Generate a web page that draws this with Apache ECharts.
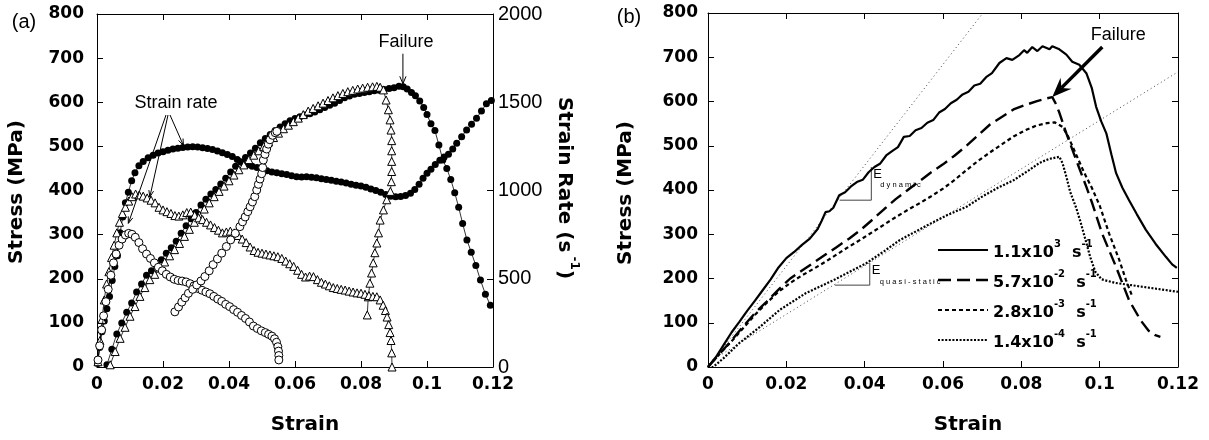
<!DOCTYPE html>
<html>
<head>
<meta charset="utf-8">
<script src="https://cdn.jsdelivr.net/npm/echarts@6/dist/echarts.min.js"></script>
<style>
  html, body { margin: 0; padding: 0; background: #fff; }
  #c { width: 1209px; height: 440px; }
</style>
</head>
<body>
<div id="c"></div>
<script>
// ---------------- Panel (a): marker curves ----------------
// Filled circles – stress (left axis)
const fcStressStrain = [0.0030,0.0045,0.0060,0.0075,0.0090,0.0105,0.0120,0.0135,0.0150,0.0165,
  0.0180,0.0195,0.0210,0.0225,0.0240,0.0255,0.0270,0.0285,0.0300,0.0315,
  0.0330,0.0345,0.0360,0.0375,0.0390,0.0405,0.0420,0.0435,0.0450,0.0465,
  0.0480,0.0495,0.0510,0.0525,0.0540,0.0555,0.0570,0.0585,0.0600,0.0615,
  0.0630,0.0645,0.0660,0.0675,0.0690,0.0705,0.0720,0.0735,0.0750,0.0765,
  0.0780,0.0795,0.0810,0.0825,0.0840,0.0855,0.0870,0.0885,0.0900,0.0915,
  0.0928,0.0940,0.0953,0.0965,0.0978,0.0990,0.1000,0.1012,0.1024,0.1036,
  0.1048,0.1060,0.1072,0.1084,0.1096,0.1108,0.1121,0.1134,0.1148,0.1162,
  0.1177,0.1192];
const fcStress = [5,40,75,100,124,145,170,188,208,218,
  230,243,258,270,285,303,320,336,350,367,
  380,392,402,415,428,442,455,465,475,485,
  496,508,518,527,536,544,551,558,563,567,
  571,574,578,583,588,593,598,604,610,614,
  618,620,622,624,626,627,629,631,633,636,
  635,630,622,615,603,588,572,551,536,503,
  469,450,425,395,362,325,288,260,230,197,
  165,140];

// Filled circles – strain rate (right axis)
const fcRateStrain = [0.0002,0.0008,0.0015,0.0022,0.0030,0.0038,0.0046,0.0054,0.0062,0.0070,
  0.0078,0.0086,0.0095,0.0105,0.0115,0.0127,0.0140,0.0155,0.0170,0.0185,
  0.0200,0.0215,0.0230,0.0245,0.0260,0.0275,0.0290,0.0305,0.0320,0.0335,
  0.0350,0.0365,0.0380,0.0395,0.0410,0.0425,0.0440,0.0455,0.0470,0.0485,
  0.0500,0.0515,0.0530,0.0545,0.0560,0.0575,0.0590,0.0605,0.0620,0.0635,
  0.0650,0.0665,0.0680,0.0695,0.0710,0.0725,0.0740,0.0755,0.0770,0.0785,
  0.0800,0.0815,0.0830,0.0845,0.0860,0.0875,0.0890,0.0905,0.0920,0.0935,
  0.0950,0.0963,0.0976,0.0988,0.1000,0.1012,0.1025,0.1039,0.1052,0.1065,
  0.1078,0.1090,0.1105,0.1120,0.1135,0.1150,0.1165,0.1180,0.1195];
const fcRate = [20,110,200,260,330,400,490,570,630,760,
  850,930,990,1055,1100,1140,1165,1185,1200,1212,
  1220,1228,1235,1240,1244,1247,1248,1246,1242,1238,
  1232,1224,1214,1204,1192,1175,1158,1146,1138,1130,
  1120,1112,1105,1100,1095,1090,1083,1078,1076,1078,
  1075,1072,1066,1062,1058,1052,1048,1042,1036,1030,
  1025,1018,1008,1000,990,978,968,964,966,972,
  985,1005,1035,1070,1098,1120,1148,1172,1190,1205,
  1235,1267,1305,1343,1376,1409,1450,1492,1510];

// Open triangles – stress (left axis), loading then unloading
const trStressStrain = [0.0040,0.0055,0.0070,0.0085,0.0100,0.0115,0.0130,0.0145,0.0160,0.0175,
  0.0190,0.0205,0.0220,0.0235,0.0250,0.0265,0.0280,0.0295,0.0310,0.0325,
  0.0340,0.0355,0.0370,0.0385,0.0400,0.0415,0.0430,0.0445,0.0460,0.0475,
  0.0490,0.0505,0.0520,0.0535,0.0550,0.0565,0.0580,0.0595,0.0610,0.0625,
  0.0640,0.0655,0.0670,0.0685,0.0700,0.0715,0.0730,0.0745,0.0760,0.0775,
  0.0790,0.0805,0.0820,0.0835,0.0848,0.0858,0.0868,0.0876,0.0883,0.0888,
  0.0891,0.0893,0.0893,0.0893,0.0893,0.0892,0.0889,0.0878,0.0868,0.0858,
  0.0853,0.0848,0.0842,0.0837,0.0832,0.0827,0.0822,0.0819];
const trStress = [5,35,65,90,115,137,160,180,198,210,
  224,238,252,266,280,296,312,328,344,358,
  372,386,398,410,422,435,447,458,470,480,
  490,500,510,520,530,540,548,556,564,572,
  580,586,592,598,604,610,615,620,624,627,
  630,632,634,635,636,634,628,605,583,560,
  537,513,490,466,443,420,398,379,356,333,
  304,281,259,236,213,190,159,118];

// Open triangles – strain rate (right axis)
const trRateStrain = [0.0003,0.0009,0.0015,0.0022,0.0029,0.0036,0.0044,0.0052,0.0060,0.0068,
  0.0077,0.0086,0.0096,0.0106,0.0117,0.0128,0.0140,0.0152,0.0164,0.0176,
  0.0188,0.0200,0.0212,0.0224,0.0236,0.0248,0.0260,0.0272,0.0284,0.0296,
  0.0308,0.0320,0.0332,0.0344,0.0356,0.0368,0.0380,0.0392,0.0404,0.0416,
  0.0428,0.0440,0.0452,0.0464,0.0476,0.0488,0.0500,0.0512,0.0524,0.0536,
  0.0548,0.0560,0.0572,0.0584,0.0596,0.0608,0.0620,0.0632,0.0644,0.0656,
  0.0668,0.0680,0.0692,0.0704,0.0716,0.0728,0.0740,0.0752,0.0764,0.0776,
  0.0788,0.0800,0.0812,0.0824,0.0836,0.0848,0.0858,0.0867,0.0874,0.0879,
  0.0884,0.0888,0.0891,0.0893,0.0894];
const trRate = [30,150,270,380,470,540,620,690,760,820,
  870,905,940,965,980,975,968,958,945,930,
  905,890,880,870,858,855,862,875,878,860,
  845,835,820,805,790,775,760,765,770,760,
  745,725,705,680,660,650,645,640,635,630,
  625,615,600,585,570,548,525,510,515,512,
  495,480,470,460,450,445,440,436,430,425,
  420,418,412,405,400,398,380,350,320,283,
  240,195,150,80,0];

// Open circles – strain rate (right axis)
const ocRateStrain = [0.0003,0.0008,0.0014,0.0020,0.0027,0.0034,0.0042,0.0050,0.0058,0.0067,
  0.0076,0.0086,0.0096,0.0106,0.0116,0.0127,0.0138,0.0150,0.0162,0.0174,
  0.0186,0.0198,0.0210,0.0222,0.0234,0.0246,0.0258,0.0270,0.0282,0.0294,
  0.0306,0.0318,0.0330,0.0342,0.0354,0.0366,0.0378,0.0390,0.0402,0.0414,
  0.0426,0.0438,0.0450,0.0462,0.0474,0.0486,0.0498,0.0510,0.0520,0.0530,
  0.0538,0.0544,0.0548,0.0550,0.0551,0.0551];
const ocRate = [40,120,210,290,370,440,520,590,640,690,
  725,748,757,752,735,705,670,640,615,590,
  565,545,525,510,497,490,487,482,472,460,
  445,435,425,415,400,385,372,355,342,325,
  310,292,275,255,232,218,205,195,185,175,
  160,140,115,90,65,40];

// Open circles – stress (left axis), unloading branch
const ocStressStrain = [0.0236,0.0247,0.0257,0.0267,0.0277,0.0290,0.0302,0.0315,0.0327,0.0340,
  0.0352,0.0365,0.0378,0.0392,0.0405,0.0419,0.0433,0.0441,0.0449,0.0457,
  0.0464,0.0471,0.0478,0.0484,0.0489,0.0494,0.0499,0.0502,0.0504,0.0509,
  0.0514,0.0519,0.0524,0.0532,0.0540,0.0545];
const ocStress = [125,136,147,157,167,176,186,195,205,218,
  232,245,258,273,288,303,318,329,340,352,
  363,374,386,401,414,426,438,452,469,482,
  494,505,515,525,531,534];

// ---------------- Panel (b): stress–strain at four rates ----------------
const rateLabels = [
  ['1.1x10', '3'],
  ['5.7x10', '-2'],
  ['2.8x10', '-3'],
  ['1.4x10', '-4']
];

const dynStrain = [0,0.002,0.004,0.006,0.008,0.010,0.012,0.014,0.016,0.018,
  0.020,0.022,0.024,0.026,0.028,0.029,0.030,0.031,0.032,0.0335,
  0.035,0.0365,0.038,0.0395,0.041,0.0425,0.044,0.0455,0.047,0.0485,
  0.050,0.0515,0.053,0.0545,0.056,0.0575,0.059,0.0605,0.062,0.0635,
  0.065,0.0665,0.068,0.0695,0.071,0.0725,0.0744,0.0762,0.0777,0.0795,
  0.0807,0.0815,0.0828,0.0841,0.0854,0.0872,0.0879,0.0897,0.0915,0.093,
  0.0948,0.0966,0.098,0.0991,0.1004,0.1017,0.103,0.1042,0.1058,0.1075,
  0.1095,0.1118,0.1143,0.1169,0.1185,0.1197];
const dynStress = [0,22,50,78,102,127,150,174,198,225,
  246,260,276,290,312,330,350,352,360,388,
  395,408,418,423,440,452,460,478,488,497,
  520,522,535,540,552,558,575,583,596,604,
  616,622,636,640,655,664,687,698,694,705,
  716,710,723,714,725,718,725,718,706,690,
  683,664,630,588,555,528,480,438,405,377,
  345,310,278,249,232,224];

const r57Strain = [0,0.003,0.006,0.009,0.012,0.015,0.018,0.021,0.024,0.027,
  0.030,0.033,0.036,0.039,0.042,0.045,0.048,0.051,0.054,0.057,
  0.060,0.063,0.066,0.069,0.072,0.075,0.078,0.081,0.084,
  0.0865,0.0879,0.0888,0.0897,0.0915,0.094,0.0966,0.0981,0.1006,0.1042,
  0.1075,0.1105,0.1125,0.1142,0.1155];
const r57Stress = [0,30,60,92,122,148,175,200,218,236,
  254,272,290,310,333,357,380,400,420,440,
  458,478,500,524,548,565,582,592,601,
  607,610,595,575,528,468,407,370,302,226,
  151,105,82,72,68];

const r28Strain = [0,0.003,0.006,0.009,0.012,0.015,0.018,0.021,0.024,0.027,
  0.030,0.033,0.036,0.039,0.042,0.045,0.048,0.051,0.054,0.057,
  0.060,0.063,0.066,0.069,0.072,0.075,0.078,0.081,0.084,
  0.0865,0.0885,0.0905,0.092,0.094,0.096,0.098,0.1,0.1024,0.105,
  0.1067,0.1083];
const r28Stress = [0,30,58,88,118,145,170,190,207,222,
  238,255,272,288,305,322,339,355,370,386,
  403,423,445,466,485,503,521,535,546,
  551,553,543,520,480,440,405,365,302,242,
  197,160];

const r14Strain = [0,0.0013,0.004,0.008,0.0133,0.0183,0.025,0.032,0.037,0.0405,
  0.045,0.049,0.053,0.057,0.061,0.066,0.070,0.074,0.078,0.082,
  0.0846,0.087,0.0897,0.0905,0.0915,0.0925,0.094,0.0952,0.0964,0.0976,
  0.0989,0.1005,0.104,0.108,0.112,0.116,0.12];
const r14Stress = [0,0,20,54,91,129,167,196,219,235,
  262,287,306,325,343,362,385,405,422,445,
  461,470,475,461,430,395,360,325,287,248,
  215,198,190,185,180,175,170];

// Modulus guide lines and slope triangles (strain, stress)
const eDynLine = [[0, 0], [0.0702, 800]];
const eQuasiLine = [[0.001, 15], [0.12, 667]];
const eDynTri = [[0.0336, 377], [0.0417, 377], [0.0417, 452]];
const eQuasiTri = [[0.0324, 185], [0.0413, 185], [0.0413, 235]];

// Annotated points
const failurePointA = [0.0927, 642];          // stress peak, filled circles
const rateArrowTips = [[0.0262, 1255], [0.016, 963], [0.0095, 814]];
const failurePointB = [0.0879, 610];

// ---------------- chart ----------------
const zip = (xs, ys) => xs.map((x, i) => [x, ys[i]]);
const BOLD = 'DejaVu Sans';
const PLAIN = 'Liberation Sans';

const chart = echarts.init(document.getElementById('c'));

const fmtStrain = v => String(+v.toFixed(2));
const fmtInt = v => String(Math.round(v));

function xAxis(grid, pos, showLabels) {
  return {
    type: 'value', gridIndex: grid, position: pos, min: 0, max: 0.12, interval: 0.02,
    axisLine: { show: true, onZero: false, lineStyle: { color: '#000', width: 1 } },
    axisTick: { show: true, inside: true, length: 6, lineStyle: { color: '#000', width: 1 } },
    splitLine: { show: false },
    axisLabel: showLabels ? {
      show: true, margin: 9, formatter: fmtStrain, color: '#000',
      fontFamily: BOLD, fontWeight: 'bold', fontSize: 17
    } : { show: false }
  };
}
function yAxis(grid, pos, max, interval, label) {
  return {
    type: 'value', gridIndex: grid, position: pos, min: 0, max: max, interval: interval,
    axisLine: { show: true, onZero: false, lineStyle: { color: '#000', width: 1 } },
    axisTick: { show: true, inside: true, length: 6, lineStyle: { color: '#000', width: 1 } },
    splitLine: { show: false },
    axisLabel: label ? Object.assign({ show: true, color: '#000', formatter: fmtInt }, label) : { show: false }
  };
}

function markers(xs, ys, yIdx, symbol, size, fill, z) {
  return {
    type: 'line', xAxisIndex: 0, yAxisIndex: yIdx, data: zip(xs, ys),
    symbol: symbol, symbolSize: size, showSymbol: true, showAllSymbol: true,
    clip: false, silent: true, z: z,
    lineStyle: { color: '#000', width: 0.8 },
    itemStyle: { color: fill, borderColor: '#000', borderWidth: fill === '#000' ? 0 : 1, opacity: 1 },
    emphasis: { disabled: true }
  };
}
function curve(data, width, type, z, color) {
  return {
    type: 'line', xAxisIndex: 2, yAxisIndex: 2, data: data,
    symbol: 'none', showSymbol: false, silent: true, z: z || 3,
    lineStyle: { color: color || '#000', width: width, type: type },
    emphasis: { disabled: true }
  };
}

const dashLong = [13, 6];
const dashShort = [4, 3];
const dashDot = [2, 1.6];

chart.setOption({
  animation: false,
  backgroundColor: '#fff',
  grid: [
    { left: 97, top: 14, width: 396, height: 353, outerBoundsMode: 'none' },
    { left: 708, top: 13, width: 470, height: 354, outerBoundsMode: 'none' }
  ],
  xAxis: [
    xAxis(0, 'bottom', true), xAxis(0, 'top', false),
    xAxis(1, 'bottom', true), xAxis(1, 'top', false)
  ],
  yAxis: [
    yAxis(0, 'left', 800, 100, { margin: 13, fontFamily: BOLD, fontWeight: 'bold', fontSize: 17 }),
    yAxis(0, 'right', 2000, 500, { margin: 5, fontFamily: PLAIN, fontSize: 20 }),
    yAxis(1, 'left', 800, 100, { margin: 10, fontFamily: BOLD, fontWeight: 'bold', fontSize: 17 }),
    yAxis(1, 'right', 800, 100, null)
  ],
  series: [
    markers(fcStressStrain, fcStress, 0, 'circle', 7, '#000', 2),
    markers(fcRateStrain, fcRate, 1, 'circle', 7, '#000', 2),
    markers(trStressStrain, trStress, 0, 'triangle', 8, '#fff', 3),
    markers(trRateStrain, trRate, 1, 'triangle', 8, '#fff', 3),
    markers(ocRateStrain, ocRate, 1, 'circle', 8, '#fff', 4),
    markers(ocStressStrain, ocStress, 0, 'circle', 8, '#fff', 4),

    curve(eDynLine, 1, [1, 3], 2, '#444'),
    curve(eQuasiLine, 1, [1, 3], 2, '#444'),
    curve(eDynTri, 1, 'solid', 2, '#444'),
    curve(eQuasiTri, 1, 'solid', 2, '#444'),
    curve(zip(dynStrain, dynStress), 2.2, 'solid', 5),
    curve(zip(r57Strain, r57Stress), 2.4, dashLong, 4),
    curve(zip(r28Strain, r28Stress), 2.2, dashShort, 4),
    curve(zip(r14Strain, r14Stress), 2.2, dashDot, 4)
  ]
});

// ---------------- annotations ----------------
const toA = p => chart.convertToPixel({ xAxisIndex: 0, yAxisIndex: 0 }, p);
const toAR = p => chart.convertToPixel({ xAxisIndex: 0, yAxisIndex: 1 }, p);
const toB = p => chart.convertToPixel({ xAxisIndex: 2, yAxisIndex: 2 }, p);

function head(tip, from, len, ang) {
  const dx = from[0] - tip[0], dy = from[1] - tip[1];
  const L = Math.hypot(dx, dy), ux = dx / L, uy = dy / L;
  const r = a => [tip[0] + len * (ux * Math.cos(a) - uy * Math.sin(a)),
                  tip[1] + len * (ux * Math.sin(a) + uy * Math.cos(a))];
  return [r(ang), tip, r(-ang)];
}
function text(x, y, str, opts) {
  return {
    type: 'text', x: x, y: y, rotation: opts.rotation || 0, silent: true, z: 100,
    style: Object.assign({
      text: str, fill: '#000', align: 'center', verticalAlign: 'middle',
      fontFamily: PLAIN, fontSize: 18
    }, opts.style || {})
  };
}
function seg(a, b, w, color) {
  return { type: 'line', silent: true, z: 100,
    shape: { x1: a[0], y1: a[1], x2: b[0], y2: b[1] },
    style: { stroke: color || '#000', lineWidth: w } };
}
function poly(points, w) {
  return { type: 'polyline', silent: true, z: 100, shape: { points: points },
    style: { stroke: '#000', lineWidth: w, fill: null } };
}

const g = [];
// panel letters
g.push(text(24, 22, '(a)', { style: { fontSize: 20 } }));
g.push(text(629, 17, '(b)', { style: { fontSize: 20 } }));

// axis titles
const nameStyle = { fontFamily: BOLD, fontWeight: 'bold', fontSize: 20 };
g.push(text(17, 192, 'Stress (MPa)', { rotation: Math.PI / 2, style: nameStyle }));
g.push(text(305, 425, 'Strain', { style: nameStyle }));
g.push(text(567, 188, '{n|Strain Rate (s}{p| -1}{n|)}', {
  rotation: -Math.PI / 2,
  style: {
    rich: {
      n: { fontFamily: BOLD, fontWeight: 'bold', fontSize: 20, lineHeight: 26, verticalAlign: 'bottom' },
      p: { fontFamily: BOLD, fontWeight: 'bold', fontSize: 12, lineHeight: 12, verticalAlign: 'top' }
    }
  }
}));
g.push(text(626, 193, 'Stress (MPa)', { rotation: Math.PI / 2, style: nameStyle }));
g.push(text(968, 425, 'Strain', { style: nameStyle }));

// (a) "Strain rate" with three arrows
g.push(text(176, 103, 'Strain rate', {}));
const rateOrigins = [[170, 115], [168, 115], [166, 115]];
rateArrowTips.forEach((t, i) => {
  const tip = toAR(t);
  g.push(seg(rateOrigins[i], tip, 1));
  g.push(poly(head(tip, rateOrigins[i], 7, 0.35), 1));
});

// (a) Failure
const fa = toA(failurePointA);
g.push(text(fa[0] + 3, 42, 'Failure', {}));
const faFrom = [fa[0], fa[1] - 30];
g.push(seg(faFrom, fa, 1));
g.push(poly(head(fa, faFrom, 8, 0.4), 1));

// (b) Failure, heavy arrow
const fb = toB(failurePointB);
const fbFrom = [fb[0] + 50, fb[1] - 50];
g.push(text(fb[0] + 66, 35, 'Failure', {}));
(function () {
  const dx = fbFrom[0] - fb[0], dy = fbFrom[1] - fb[1];
  const L = Math.hypot(dx, dy), ux = dx / L, uy = dy / L;
  const notch = [fb[0] + ux * 13, fb[1] + uy * 13];
  const h = head(fb, fbFrom, 21, 0.38);
  g.push(seg(fbFrom, notch, 3.5));
  g.push({ type: 'polygon', silent: true, z: 100,
    shape: { points: [h[0], h[1], h[2], notch] }, style: { fill: '#000' } });
})();

// (b) modulus labels
const td = toB(eDynTri[2]);
g.push(text(td[0] + 2, td[1] + 7, 'E', { style: { align: 'left', fontSize: 13 } }));
g.push(text(td[0] + 9, td[1] + 18, 'd y n a m i c', { style: { align: 'left', fontSize: 7.5 } }));
const tq = toB(eQuasiTri[2]);
g.push(text(tq[0] + 2, tq[1] + 7, 'E', { style: { align: 'left', fontSize: 13 } }));
g.push(text(tq[0] + 10, tq[1] + 19, 'q u a s i - s t a t i c', { style: { align: 'left', fontSize: 7.5 } }));

// (b) legend
const legendStyles = [
  { w: 2.2, dash: null },
  { w: 2.4, dash: dashLong },
  { w: 2.2, dash: dashShort },
  { w: 2.2, dash: dashDot }
];
rateLabels.forEach((lab, i) => {
  const y = 250 + i * 30;
  g.push({ type: 'line', silent: true, z: 100,
    shape: { x1: 938, y1: y, x2: 988, y2: y },
    style: { stroke: '#000', lineWidth: legendStyles[i].w, lineDash: legendStyles[i].dash } });
  g.push(text(993, y, '{m|' + lab[0] + '}{s|' + lab[1] + '}{m|  s}{s|-1}', {
    style: {
      align: 'left',
      rich: {
        m: { fontFamily: BOLD, fontWeight: 'bold', fontSize: 16, lineHeight: 22, verticalAlign: 'bottom' },
        s: { fontFamily: BOLD, fontWeight: 'bold', fontSize: 10, lineHeight: 12, verticalAlign: 'top' }
      }
    }
  }));
});

chart.setOption({ graphic: { elements: g } });
</script>
</body>
</html>
